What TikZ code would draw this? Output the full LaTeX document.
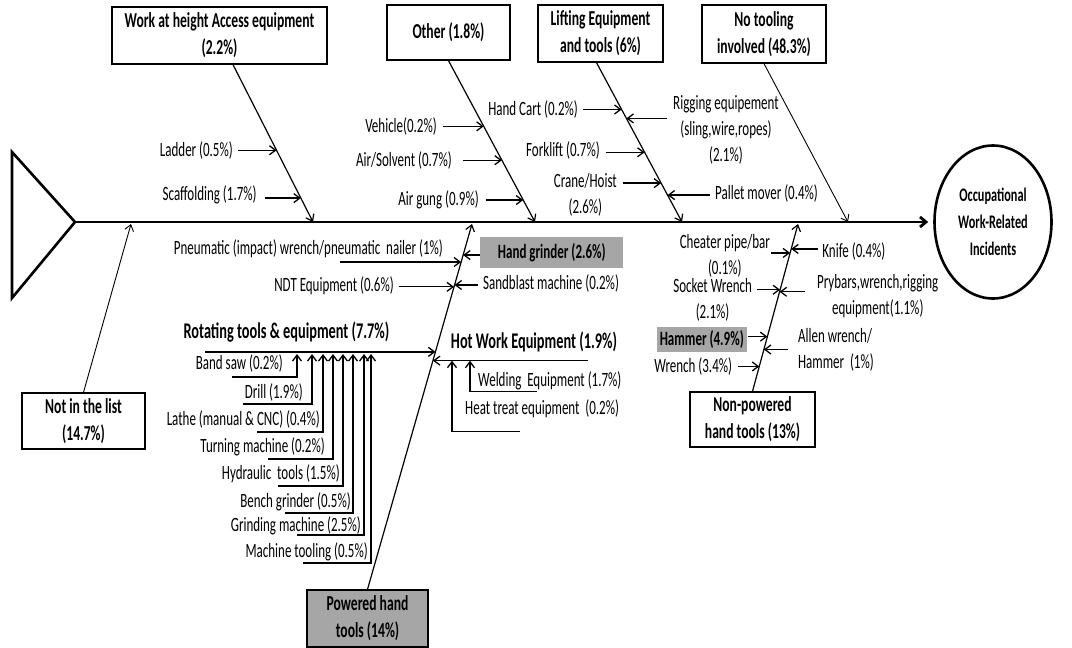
\documentclass[tikz,border=0pt]{standalone}
\usepackage{fontspec}
\setmainfont{Carlito}[FakeStretch=0.64]
\usetikzlibrary{arrows.meta,positioning,shapes.geometric}
\definecolor{boxgray}{RGB}{166,166,166}
\newcommand\lblfont{\fontsize{20.3}{26}\selectfont}
\newcommand\catfont{\fontsize{21.3}{27}\selectfont\bfseries}
\newcommand\tagfont{\fontsize{20.3}{26}\selectfont\bfseries}
\newcommand\bigfont{\fontsize{22.4}{27}\selectfont\bfseries}
\newcommand\effont{\fontsize{19.2}{27}\selectfont\bfseries}

\begin{document}
\begin{tikzpicture}[x=1pt,y=-1pt,
  cat/.style={draw,line width=1.3pt,fill=white,align=center,inner sep=0pt,font=\catfont},
  lbl/.style={align=center,inner sep=0pt,font=\lblfont},
  tag/.style={fill=boxgray,inner sep=0pt,font=\tagfont},
  bone/.style={line width=1.2pt,-{Straight Barb[length=6pt,width=9pt]}},
  twig/.style={line width=1.3pt,-{Straight Barb[length=6pt,width=9pt]}}]
  \useasboundingbox (0,0) rectangle (1072,648);

  % head, tail and spine
  \draw[line width=2.6pt] (12,152) -- (75,222) -- (12,298) -- cycle;
  \coordinate (tail) at (75,222);
  \node[ellipse,draw,line width=2.6pt,minimum width=117pt,minimum height=153pt,inner sep=0pt,
        align=center,font=\effont] (effect) at (993,222) {Occupational\\Work-Related\\Incidents};
  \draw[line width=2.8pt,-{Straight Barb[length=6pt,width=10pt]},shorten >=5pt] (tail) -- (effect.west);

  % upper bones
  \node[cat,minimum width=215pt,minimum height=57pt] (wah) at (219.5,35.5) {Work at height Access equipment\\(2.2\%)};
  \coordinate (j1) at (313,222);
  \draw[bone] ([xshift=13.5pt]wah.south) -- (j1) coordinate[pos=.544] (ladder-p) coordinate[pos=.848] (scaff-p);
  \draw[twig] ([xshift=-38.5pt]ladder-p) -- (ladder-p);
  \node[lbl,left=43.5pt of ladder-p] (ladder) {Ladder (0.5\%)};
  \draw[twig] ([xshift=-36pt]scaff-p) -- (scaff-p);
  \node[lbl,left=44pt of scaff-p,yshift=3pt] (scaff) {Scaffolding (1.7\%)};

  \node[cat,minimum width=123pt,minimum height=55pt] (other) at (448.5,32.5) {Other (1.8\%)};
  \coordinate (j2) at (535,222);
  \draw[bone] (other.south) -- (j2) coordinate[pos=.407] (veh-p) coordinate[pos=.617] (air-p) coordinate[pos=.864] (gun-p);
  \draw[twig] ([xshift=-40.7pt]veh-p) -- (veh-p);
  \node[lbl,left=46.7pt of veh-p] (veh) {Vehicle(0.2\%)};
  \draw[twig] ([xshift=-38.9pt]air-p) -- (air-p);
  \node[lbl,left=49.9pt of air-p] (air) {Air/Solvent (0.7\%)};
  \draw[twig] ([xshift=-37.3pt]gun-p) -- (gun-p);
  \node[lbl,left=44.3pt of gun-p] (gun) {Air gung (0.9\%)};

  \node[cat,minimum width=125pt,minimum height=57pt] (lift) at (600.5,33.5) {Lifting Equipment\\and tools (6\%)};
  \coordinate (j3) at (682,222);
  \draw[bone] ([xshift=-4pt]lift.south) -- (j3) coordinate[pos=.294] (cart-p) coordinate[pos=.35] (rig-p)
    coordinate[pos=.5625] (fork-p) coordinate[pos=.756] (crane-p) coordinate[pos=.831] (pallet-p);
  \draw[twig] ([xshift=-38.6pt]cart-p) -- (cart-p);
  \node[lbl,left=43.6pt of cart-p] (cart) {Hand Cart (0.2\%)};
  \draw[twig] ([xshift=40.6pt]rig-p) -- (rig-p);
  \node[lbl,right=46.6pt of rig-p,yshift=-11pt] (rig) {Rigging equipement\\(sling,wire,ropes)\\(2.1\%)};
  \draw[twig] ([xshift=-38.6pt]fork-p) -- (fork-p);
  \node[lbl,left=44.6pt of fork-p,yshift=2pt] (fork) {Forklift (0.7\%)};
  \draw[twig] ([xshift=-38.1pt]crane-p) -- (crane-p);
  \node[lbl,left=44.1pt of crane-p,yshift=-12pt] (crane) {Crane/Hoist\\(2.6\%)};
  \draw[twig] ([xshift=42.4pt]pallet-p) -- (pallet-p);
  \node[lbl,right=47.4pt of pallet-p,yshift=2pt] (pallet) {Pallet mover (0.4\%)};

  \node[cat,minimum width=124pt,minimum height=58pt] (notool) at (764,34) {No tooling\\involved (48.3\%)};
  \coordinate (j4) at (848,222);
  \draw[bone,line width=0.9pt] (notool.south) -- (j4);

  % lower bones
  \node[cat,minimum width=123pt,minimum height=56pt] (notlist) at (83.5,421) {Not in the list\\(14.7\%)};
  \coordinate (j5) at (131,224);
  \draw[bone,line width=0.9pt] (notlist.north) -- (j5);

  \node[cat,fill=boxgray,minimum width=121pt,minimum height=57pt] (powered) at (367.5,618.5) {Powered hand\\tools (14\%)};
  \coordinate (j6) at (472,224);
  \draw[bone] (powered.north) -- (j6) coordinate[pos=.896] (pneu-p) coordinate[pos=.915] (grind-p)
    coordinate[pos=.828] (ndt-p) coordinate[pos=.833] (sand-p) coordinate[pos=.650] (rot-p) coordinate[pos=.626] (hot-p);
  \draw[twig] ([xshift=-121pt]pneu-p) -- (pneu-p);
  \node[lbl,left=18pt of pneu-p,yshift=13pt] (pneu) {Pneumatic (impact) wrench/pneumatic\ \ nailer (1\%)};
  \draw[twig] ([xshift=24pt]grind-p) -- (grind-p);
  \node[tag,right=17pt of grind-p,yshift=2.5pt,minimum width=143pt,minimum height=31pt] (grind) {Hand grinder (2.6\%)};
  \draw[twig] ([xshift=-55pt]ndt-p) -- (ndt-p);
  \node[lbl,left=60pt of ndt-p,yshift=1pt] (ndt) {NDT Equipment\ (0.6\%)};
  \draw[twig] ([xshift=23.4pt]sand-p) -- (sand-p);
  \node[lbl,right=28.4pt of sand-p,yshift=2pt] (sand) {Sandblast machine (0.2\%)};

  \draw[twig] ([xshift=-230.4pt]rot-p) -- (rot-p);
  \node[lbl,font=\bigfont] (rot) at (286.5,332) {Rotating tools \& equipment (7.7\%)};
  \foreach \i/\txt/\tx/\ty/\ux/\uy/\vx in {
      1/Band saw (0.2\%)/283/363/232/377/297,
      2/Drill (1.9\%)/303/392/243/404/312,
      3/Lathe (manual \& CNC) (0.4\%)/320/419/257/432/323,
      4/Turning machine (0.2\%)/325/447/268/459/333,
      5/Hydraulic\ \ tools (1.5\%)/340/474/278/486/343,
      6/Bench grinder (0.5\%)/351/502/285/513/353,
      7/Grinding machine (2.5\%)/361/526/297/535/364,
      8/Machine tooling (0.5\%)/368/552/303/563/371} {
    \node[lbl,anchor=east] (rot\i) at (\tx,\ty) {\txt};
    \coordinate (rot\i-u) at (\ux,\uy);
    \coordinate (rot\i-v) at (\vx,354);
    \draw[twig] (rot\i-u) -| (rot\i-v);
  }

  \draw[twig] ([xshift=155pt]hot-p) -- (hot-p) coordinate[pos=.761] (weld-p) coordinate[pos=.877] (heat-p);
  \node[lbl,font=\bigfont] (hot) at (534,342) {Hot Work Equipment (1.9\%)};
  \draw[twig] ([shift={(67pt,-31pt)}]weld-p) -| (weld-p);
  \node[lbl,anchor=west] (weld) at (478,381) {Welding\ \ Equipment (1.7\%)};
  \draw[twig] ([shift={(68pt,-71pt)}]heat-p) -| (heat-p);
  \node[lbl,anchor=west] (heat) at (465,409) {Heat treat equipment\ \ (0.2\%)};

  \node[cat,minimum width=125pt,minimum height=55pt] (nonpow) at (752.5,419.5) {Non-powered\\hand tools (13\%)};
  \coordinate (j7) at (798,224);
  \draw[bone] (nonpow.north) -- (j7) coordinate[pos=.827] (cheat-p) coordinate[pos=.851] (knife-p)
    coordinate[pos=.607] (sock-p) coordinate[pos=.595] (pry-p) coordinate[pos=.327] (ham-p)
    coordinate[pos=.25] (allen-p) coordinate[pos=.149] (wren-p);
  \draw[twig] ([xshift=-19pt]cheat-p) -- (cheat-p);
  \node[lbl,left=20pt of cheat-p,yshift=-2.5pt] (cheat) {Cheater pipe/bar\\(0.1\%)};
  \draw[twig] ([xshift=27pt]knife-p) -- (knife-p);
  \node[lbl,right=31pt of knife-p,yshift=-3pt] (knife) {Knife (0.4\%)};
  \draw[twig] ([xshift=-23pt]sock-p) -- (sock-p);
  \node[lbl,left=28pt of sock-p,yshift=-10.5pt] (sock) {Socket Wrench\\(2.1\%)};
  \draw[twig] ([xshift=25.4pt]pry-p) -- (pry-p);
  \node[lbl,right=37.4pt of pry-p,yshift=-4.5pt] (pry) {Prybars,wrench,rigging\\equipment(1.1\%)};
  \draw[twig] ([xshift=-19.4pt]ham-p) -- (ham-p);
  \node[tag,left=20.4pt of ham-p,yshift=-2.5pt,minimum width=90pt,minimum height=25pt] (ham) {Hammer (4.9\%)};
  \draw[twig] ([xshift=24pt]allen-p) -- (allen-p);
  \node[lbl,align=left,right=34pt of allen-p] (allen) {Allen wrench/\\Hammer\ \ (1\%)};
  \draw[twig] ([xshift=-21pt]wren-p) -- (wren-p);
  \node[lbl,left=27pt of wren-p] (wren) {Wrench (3.4\%)};
\end{tikzpicture}
\end{document}
